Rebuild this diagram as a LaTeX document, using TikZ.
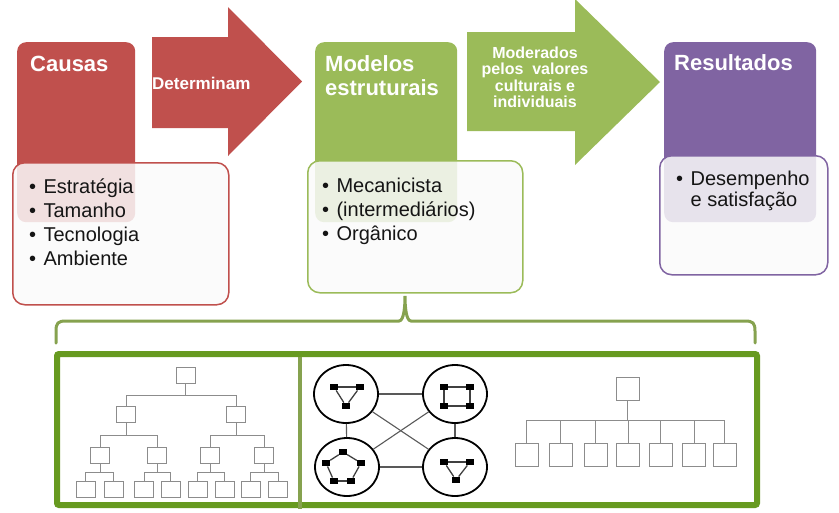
\documentclass[tikz,border=0pt]{standalone}
\usepackage{fontspec}
\setmainfont{Liberation Sans}
\usetikzlibrary{shapes.geometric}
\definecolor{causasred}{HTML}{C0504D}
\definecolor{modgreen}{HTML}{9BBB59}
\definecolor{respurple}{HTML}{8064A2}
\definecolor{framegreen}{HTML}{679A20}
\definecolor{bracegreen}{HTML}{86A24F}
\definecolor{boxwhite}{HTML}{FAFAFA}
\definecolor{orggray}{HTML}{8C8C8C}
\definecolor{bodytxt}{HTML}{151515}
\newcommand{\blt}{\makebox[14.4pt][l]{•}}
\begin{document}
\begin{tikzpicture}[x=1pt, y=-1pt,
    every node/.style={inner sep=0pt},
    colbox/.style={rounded corners=9pt, anchor=north west},
    listbox/.style={rounded corners=12pt, line width=1.5pt, fill=boxwhite, fill opacity=0.85, anchor=north west},
    hdr/.style={font=\bfseries\fontsize{22}{24}\selectfont, text=white, anchor=base west},
    itemtxt/.style={font=\fontsize{20}{24}\selectfont, text=bodytxt, anchor=base west},
    arrowtxt/.style={font=\bfseries\fontsize{16}{18}\selectfont, text=white, anchor=base},
    orgbox/.style={draw=orggray, line width=0.9pt, minimum width=19pt, minimum height=16pt},
    flatbox/.style={orgbox, minimum width=23pt, minimum height=23pt},
    orgline/.style={draw=orggray, line width=0.9pt},
    cluster/.style={ellipse, draw, line width=1.8pt, minimum width=64pt, minimum height=58pt},
    unit/.style={fill=black, minimum width=8pt, minimum height=6.5pt},
    netline/.style={draw=black!65, line width=1.1pt},
    unitline/.style={draw=black!75, line width=1.3pt}]
  \useasboundingbox (0,0) rectangle (839,512);

  % causas
  \node[colbox, fill=causasred, minimum width=118pt, minimum height=180pt] (causasbg) at (17,42) {};
  \node[listbox, draw=causasred, minimum width=216pt, minimum height=142pt] (causaslist) at (12,162) {};
  \node[hdr] (causast) at (30,71) {Causas};
  \foreach \t [count=\i] in {Estratégia,Tamanho,Tecnologia,Ambiente}
    \node[itemtxt] (causas\i) at (29,169+24*\i) {\blt\t};

  % determinam arrow
  \fill[causasred] (152,37) -- (228,37) -- (228,7) -- (302,81.5) -- (228,156) -- (228,128) -- (152,128) -- cycle;
  \node[font=\bfseries\fontsize{17}{20}\selectfont, text=white, anchor=base west] (determ) at (152,89) {Determinam};

  % modelos
  \node[colbox, fill=modgreen, minimum width=142pt, minimum height=180pt] (modbg) at (315,42) {};
  \node[listbox, draw=modgreen, minimum width=215pt, minimum height=132pt] (modlist) at (307,160) {};
  \node[hdr] (modt1) at (325,71) {Modelos};
  \node[hdr] (modt2) at (325,95) {estruturais};
  \node[itemtxt] (mod1) at (322,192) {\blt Mecanicista};
  \node[itemtxt] (mod2) at (322,216) {\blt (intermediários)};
  \node[itemtxt] (mod3) at (322,240) {\blt Orgânico};

  % moderados arrow
  \fill[modgreen] (467,32) -- (575,32) -- (575,-1) -- (660,82) -- (575,165) -- (575,131) -- (467,131) -- cycle;
  \node[arrowtxt] (moder1) at (535,58) {Moderados};
  \node[arrowtxt] (moder2) at (535,74.5) {pelos\ \ valores};
  \node[arrowtxt] (moder3) at (535,91) {culturais e};
  \node[arrowtxt] (moder4) at (535,107.5) {individuais};

  % resultados
  \node[colbox, fill=respurple, minimum width=152pt, minimum height=180pt] (resbg) at (664,42) {};
  \node[listbox, draw=respurple, minimum width=168pt, minimum height=119pt] (reslist) at (659,155) {};
  \node[hdr] (rest) at (674,70) {Resultados};
  \node[itemtxt] (res1) at (676,185) {\blt Desempenho};
  \node[itemtxt] (res2) at (676,206) {\hspace*{14.4pt}e satisfação};

  % brace
  \draw[bracegreen, line width=3pt, line cap=round] (56,343) -- (56,331) .. controls (56,323) and (58,321) .. (66,321)
    -- (399,321) .. controls (404,321) and (405,306) .. (405,296) .. controls (405,306) and (406,321) .. (411,321)
    -- (745,321) .. controls (753,321) and (755,323) .. (755,331) -- (755,343);

  % frame
  \draw[framegreen, line width=6pt, rounded corners=2pt] (57,354) rectangle (757,505);
  \draw[bracegreen, line width=4pt] (300,357) -- (300,509);

  % mechanistic tree
  \node[orgbox] (t0) at (185.5,375) {};
  \node[orgbox] (a1) at (126,414) {};
  \node[orgbox] (a2) at (236,414) {};
  \foreach \x [count=\i] in {100,157,210,264}
    \node[orgbox] (b\i) at (\x,455) {};
  \foreach \x [count=\i] in {85.5,113.5,144,170.5,197.5,224.5,250.5,278}
    \node[orgbox] (c\i) at (\x,489.5) {};
  \foreach \p/\c/\y in {t0/a1/395, t0/a2/395, a1/b1/435, a1/b2/435, a2/b3/435, a2/b4/435,
      b1/c1/472, b1/c2/472, b2/c3/472, b2/c4/472, b3/c5/472, b3/c6/472, b4/c7/472, b4/c8/472}
    \draw[orgline] (\p.south) -- (\p.south |- 0,\y) -| (\c.north);

  % organic network
  \node[cluster] (tl) at (346,394) {};
  \node[cluster] (tr) at (455,394) {};
  \node[cluster] (bl) at (347,467) {};
  \node[cluster] (br) at (455,467) {};
  \foreach \a/\b in {tl/tr, tl/bl, tr/br, bl/br, tl/br, tr/bl}
    \draw[netline] (\a) -- (\b);
  \node[unit] (p1) at (334,387) {};
  \node[unit] (p2) at (360,387) {};
  \node[unit] (p3) at (346,406) {};
  \node[unit] (q1) at (444,387) {};
  \node[unit] (q2) at (470,387) {};
  \node[unit] (q3) at (444,406) {};
  \node[unit] (q4) at (470,406) {};
  \node[unit] (r1) at (343,452) {};
  \node[unit] (r2) at (326,463) {};
  \node[unit] (r3) at (361,463) {};
  \node[unit] (r4) at (334,481) {};
  \node[unit] (r5) at (351,481) {};
  \node[unit] (s1) at (444,462) {};
  \node[unit] (s2) at (470,462) {};
  \node[unit] (s3) at (456,480) {};
  \foreach \a/\b in {p1/p2, p1/p3, p2/p3, q1/q2, q3/q4, q1/q3, q2/q4,
      r1/r2, r1/r3, r2/r4, r3/r5, r4/r5, s1/s2, s1/s3, s2/s3}
    \draw[unitline] (\a) -- (\b);

  % flat tree
  \node[flatbox] (u0) at (627.5,388.5) {};
  \foreach \x [count=\i] in {526.5,560.5,595.5,628,660.5,694,724.5}
    \node[flatbox] (v\i) at (\x,455) {};
  \foreach \i in {1,...,7}
    \draw[orgline] (u0.south) -- (u0.south |- 0,420) -| (v\i.north);
\end{tikzpicture}
\end{document}
